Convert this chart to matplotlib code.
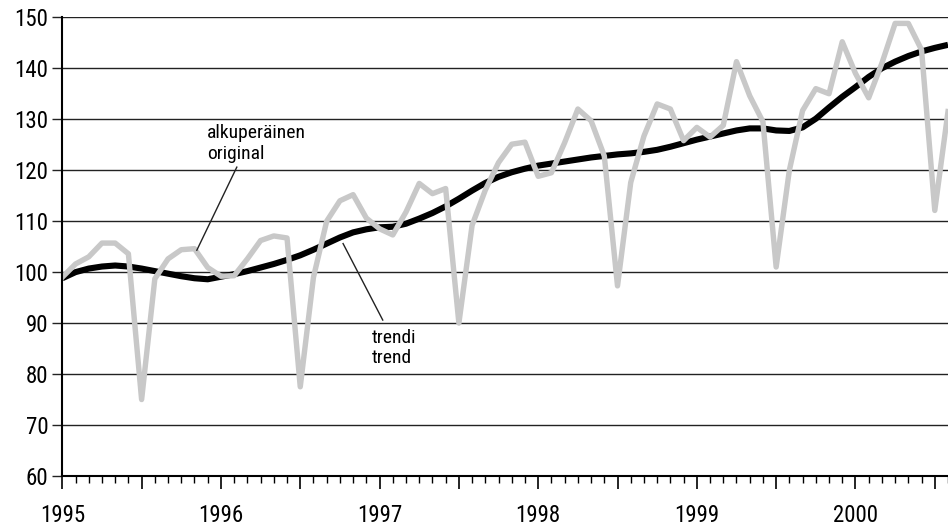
import matplotlib
matplotlib.use("Agg")
import matplotlib.pyplot as plt
import numpy as np

plt.rcParams['font.family'] = ['Roboto Condensed', 'DejaVu Sans']

# monthly data, Jan 1995 .. Aug 2000
start_year = 1995
original = [
    99.0, 101.6, 103.0, 105.7, 105.7, 103.6, 75.0, 98.7, 102.6, 104.4, 104.6, 100.9,
    99.2, 99.3, 102.6, 106.2, 107.1, 106.7, 77.5, 99.0, 110.0, 114.0, 115.2, 110.6,
    108.5, 107.3, 111.8, 117.4, 115.4, 116.4, 90.0, 109.2, 116.1, 121.5, 125.1, 125.5,
    118.8, 119.5, 125.4, 132.0, 129.7, 122.8, 97.3, 117.6, 126.7, 133.0, 132.0, 125.8,
    128.4, 126.5, 128.8, 141.3, 134.6, 129.5, 101.0, 120.0, 131.7, 136.0, 135.0, 145.2,
    139.0, 134.2, 141.0, 148.8, 148.8, 143.6, 112.1, 131.5,
]
trend = [
    98.8, 100.0, 100.7, 101.1, 101.3, 101.1, 100.7, 100.2, 99.7, 99.2, 98.8, 98.6,
    99.1, 99.6, 100.2, 100.9, 101.6, 102.4, 103.3, 104.4, 105.6, 106.8, 107.8, 108.4,
    108.8, 108.9, 109.5, 110.5, 111.6, 112.9, 114.4, 116.0, 117.5, 118.7, 119.6, 120.3,
    120.9, 121.3, 121.7, 122.1, 122.5, 122.8, 123.1, 123.3, 123.6, 124.0, 124.6, 125.3,
    126.0, 126.6, 127.2, 127.8, 128.2, 128.2, 127.8, 127.7, 128.4, 130.1, 132.3, 134.4,
    136.3, 138.3, 140.0, 141.3, 142.4, 143.3, 144.0, 144.6,
]
year_labels = ['1995', '1996', '1997', '1998', '1999', '2000']
y_ticks = [60, 70, 80, 90, 100, 110, 120, 130, 140, 150]

x = start_year + np.arange(len(original)) / 12.0

fig = plt.figure(figsize=(9.48, 5.26), dpi=100)
ax = fig.add_axes([62.3 / 948, 1 - 476 / 526, 1 - 62.3 / 948, (476 - 17.3) / 526])

ax.plot(x, trend, color='black', lw=4.4, solid_capstyle='butt', zorder=3)
ax.plot(x, original, color='#c8c8c8', lw=3.9, solid_joinstyle='round', zorder=4)

ax.set_xlim(1995, 2000.578)
ax.set_ylim(60, 150)

for spine in ['top', 'right']:
    ax.spines[spine].set_visible(False)
ax.spines['left'].set_linewidth(1.5)
ax.spines['bottom'].set_linewidth(1.5)
ax.spines['left'].set_zorder(5)

ax.set_yticks(y_ticks)
ax.set_yticklabels([str(v) for v in y_ticks])
ax.yaxis.grid(True, color='#222222', lw=1.0, zorder=1)
ax.set_axisbelow(True)
ax.tick_params(axis='y', length=7, width=1.0, pad=3, labelsize=16.5, color='#222222')

half = np.arange(1995, 2001, 0.5)
ax.set_xticks(half)
ax.set_xticklabels([year_labels[int(h - 1995)] if h == int(h) else '' for h in half])
ax.set_xticks(start_year + np.arange(0, 68) / 12.0, minor=True)
ax.tick_params(axis='x', which='major', length=9, width=1.2, pad=11, labelsize=16.5)
ax.tick_params(axis='x', which='minor', length=5, width=1.0)

# annotations
ax.text(1995.911, 125.2, 'alkuperäinen\noriginal', fontsize=14, ha='left', va='center',
        linespacing=1.2)
ax.plot([1996.10, 1995.848], [120.6, 104.3], color='#222222', lw=1.0, zorder=6)
ax.text(1996.95, 85.1, 'trendi\ntrend', fontsize=14, ha='left', va='center', linespacing=1.2)
ax.plot([1997.02, 1996.77], [90.6, 105.6], color='#222222', lw=1.0, zorder=6)

fig.savefig('out.png', dpi=100)
